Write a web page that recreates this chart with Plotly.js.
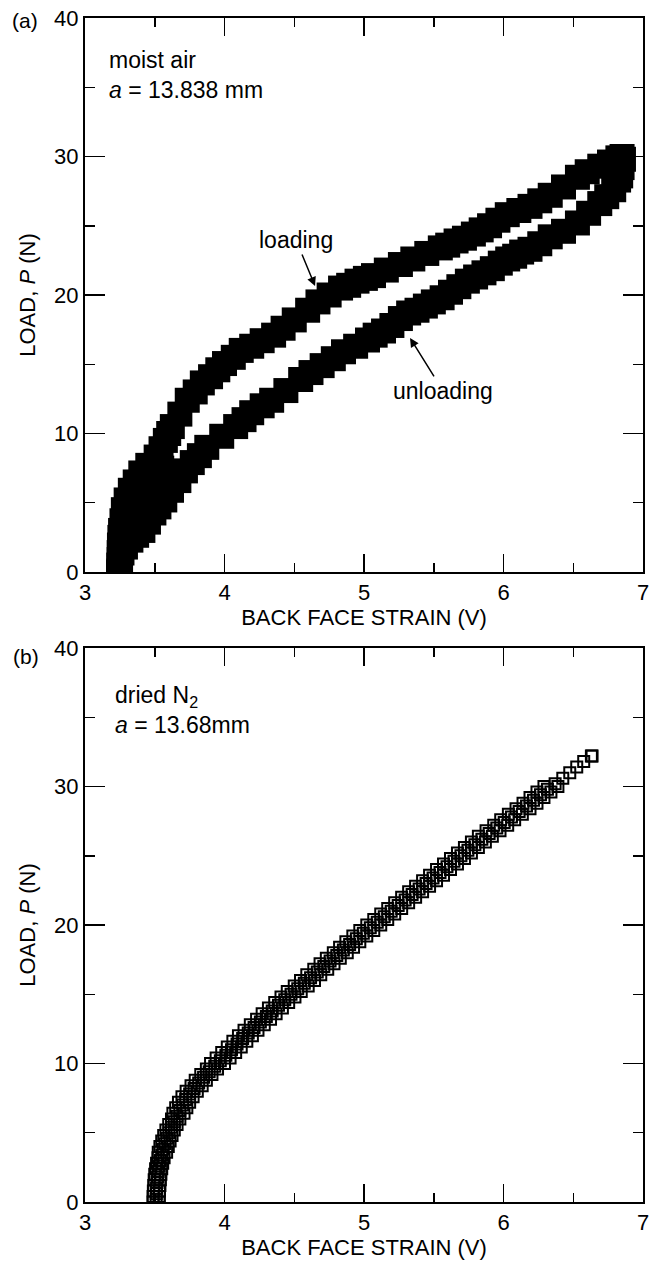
<!DOCTYPE html>
<html>
<head>
<meta charset="utf-8">
<script src="https://cdn.plot.ly/plotly-3.0.1.min.js"></script>
<style>html,body{margin:0;padding:0;background:#fff;}#chart{width:658px;height:1261px;}</style>
</head>
<body>
<div id="chart"></div>
<script>
// ---------- Panel (a): moist air, a = 13.838 mm ----------
const aLoadV = [3.24,3.242,3.245,3.245,3.247,3.25,3.255,3.265,3.275,3.295,3.325,3.36,3.40,3.45,3.51,3.545,3.576,3.60,3.626,3.68,3.733,3.79,3.841,3.90,3.952,4.00,4.063,4.12,4.195,4.27,4.352,4.42,4.50,4.596,4.67,4.75,4.832,4.89,4.95,5.01,5.068,5.16,5.261,5.35,5.45,5.547,5.60,5.66,5.72,5.784,5.84,5.90,5.96,6.027,6.11,6.19,6.26,6.335,6.43,6.53,6.60,6.69,6.76,6.82,6.85];
const aLoadP = [0.0,0.5,0.9,1.4,1.95,2.5,3.0,3.7,4.5,5.2,5.9,6.5,7.15,7.7,8.3,8.9,9.5,10.0,10.5,11.4,12.4,13.0,13.65,14.1,14.6,15.05,15.5,16.0,16.3,16.7,17.1,17.6,18.2,18.9,19.5,20.0,20.5,20.7,21.0,21.2,21.4,21.8,22.2,22.6,23.0,23.4,23.6,23.9,24.1,24.4,24.7,25.0,25.4,25.8,26.1,26.4,26.8,27.2,27.8,28.5,28.9,29.3,29.6,29.9,30.0];
const aUnV = [6.86,6.85,6.84,6.825,6.79,6.74,6.69,6.61,6.53,6.43,6.335,6.26,6.19,6.13,6.08,6.03,5.977,5.92,5.86,5.80,5.741,5.68,5.62,5.56,5.497,5.44,5.38,5.32,5.261,5.20,5.14,5.08,5.025,4.94,4.853,4.78,4.70,4.62,4.546,4.44,4.338,4.27,4.195,4.14,4.08,3.98,3.873,3.82,3.769,3.72,3.673,3.62,3.572,3.53,3.494,3.455,3.415,3.37,3.329,3.29,3.265,3.255,3.25,3.245];
const aUnP = [29.8,29.2,28.6,28.3,27.6,27.1,26.6,25.9,25.2,24.6,24.2,23.7,23.3,23.1,22.8,22.6,22.3,21.9,21.6,21.3,21.0,20.6,20.2,19.8,19.5,19.2,18.9,18.7,18.3,17.8,17.4,17.1,16.75,16.3,15.9,15.4,14.9,14.4,13.9,13.1,12.4,12.0,11.5,11.0,10.5,9.8,9.0,8.4,7.9,7.3,6.6,5.9,5.2,4.7,4.26,3.6,3.0,2.65,2.3,1.8,1.37,0.9,0.5,0.1];
// scattered early-cycle points filling the wedge between the branches near the origin
const aStartV = [3.30,3.34,3.38,3.43,3.48,3.55];
const aStartP = [2.5,3.5,4.5,5.5,6.5,7.5];

// ---------- Panel (b): dried N2, a = 13.68 mm ----------
const bLoadP = [0.0,0.4,0.8,1.2,1.6,2.0,2.4,2.8,3.2,3.6,4.0,4.4,4.8,5.2,5.6,6.0,6.4,6.8,7.2,7.6,8.0,8.4,8.8,9.2,9.6,10.0,10.4,10.8,11.2,11.6,12.0,12.4,12.8,13.2,13.6,14.0,14.4,14.8,15.2,15.6,16.0,16.4,16.8,17.2,17.6,18.0,18.4,18.8,19.2,19.6,20.0,20.4,20.8,21.2,21.6,22.0,22.4,22.8,23.2,23.6,24.0,24.4,24.8,25.2,25.6,26.0,26.4,26.8,27.2,27.6,28.0,28.4,28.8,29.2,29.6,30.0];
const bLoadV = [3.488,3.488,3.49,3.493,3.496,3.50,3.506,3.513,3.523,3.525,3.537,3.55,3.564,3.58,3.60,3.62,3.63,3.65,3.67,3.695,3.725,3.76,3.79,3.83,3.87,3.90,3.94,3.98,4.02,4.06,4.10,4.14,4.185,4.23,4.27,4.315,4.36,4.405,4.45,4.50,4.545,4.59,4.64,4.685,4.73,4.78,4.825,4.87,4.92,4.97,5.02,5.07,5.12,5.17,5.22,5.27,5.32,5.37,5.42,5.47,5.52,5.57,5.62,5.67,5.72,5.77,5.82,5.875,5.93,5.98,6.035,6.09,6.14,6.19,6.24,6.29];
const bMidP = [0.2,0.6,1.0,1.4,1.8,2.2,2.6,3.0,3.4,3.8,4.2,4.6,5.0,5.4,5.8,6.2,6.6,7.0,7.4,7.8,8.2,8.6,9.0,9.4,9.8,10.2,10.6,11.0,11.4,11.8,12.2,12.6,13.0,13.4,13.8,14.2,14.6,15.0,15.4,15.8,16.2,16.6,17.0,17.4,17.8,18.2,18.6,19.0,19.4,19.8,20.2,20.6,21.0,21.4,21.8,22.2,22.6,23.0,23.4,23.8,24.2,24.6,25.0,25.4,25.8,26.2,26.6,27.0,27.4,27.8,28.2,28.6,29.0,29.4,29.8,30.2,30.6,31.0,31.4,31.8,32.2,32.2];
const bMidV = [3.51,3.511,3.513,3.516,3.52,3.525,3.531,3.54,3.55,3.561,3.573,3.587,3.602,3.62,3.64,3.66,3.68,3.70,3.722,3.75,3.782,3.815,3.85,3.89,3.93,3.97,4.01,4.05,4.09,4.13,4.17,4.212,4.257,4.30,4.342,4.387,4.432,4.477,4.525,4.572,4.617,4.665,4.712,4.757,4.805,4.852,4.897,4.945,4.995,5.045,5.095,5.145,5.195,5.245,5.295,5.345,5.395,5.445,5.495,5.545,5.595,5.645,5.695,5.745,5.795,5.845,5.897,5.952,6.005,6.057,6.112,6.165,6.215,6.265,6.315,6.37,6.425,6.475,6.525,6.575,6.63,6.635];
const bUnP = [30.0,29.6,29.2,28.8,28.4,28.0,27.6,27.2,26.8,26.4,26.0,25.6,25.2,24.8,24.4,24.0,23.6,23.2,22.8,22.4,22.0,21.6,21.2,20.8,20.4,20.0,19.6,19.2,18.8,18.4,18.0,17.6,17.2,16.8,16.4,16.0,15.6,15.2,14.8,14.4,14.0,13.6,13.2,12.8,12.4,12.0,11.6,11.2,10.8,10.4,10.0,9.6,9.2,8.8,8.4,8.0,7.6,7.2,6.8,6.4,6.0,5.6,5.2,4.8,4.4,4.0,3.6,3.2,2.8,2.4,2.0,1.6,1.2,0.8,0.4,0.0];
const bUnV = [6.39,6.34,6.29,6.24,6.19,6.135,6.08,6.03,5.975,5.92,5.87,5.82,5.77,5.72,5.67,5.62,5.57,5.52,5.47,5.42,5.37,5.32,5.27,5.22,5.17,5.12,5.07,5.02,4.97,4.925,4.88,4.83,4.785,4.74,4.69,4.645,4.60,4.55,4.505,4.46,4.415,4.37,4.33,4.285,4.24,4.20,4.16,4.12,4.08,4.04,4.00,3.95,3.91,3.87,3.84,3.805,3.775,3.75,3.73,3.71,3.68,3.66,3.64,3.624,3.61,3.597,3.585,3.567,3.557,3.55,3.544,3.54,3.537,3.534,3.532,3.532];

// ---------- Axis settings ----------
const xRange = [3, 7];
const yRange = [0, 40];
const xTitle = 'BACK FACE STRAIN (V)';
const yTitle = 'LOAD, <i>P</i> (N)';

const FONT = 'Liberation Sans, Arial, Helvetica, sans-serif';

const openSq = {symbol: 'square-open', size: 11, color: '#000', line: {width: 2, color: '#000'}};
const solidSq = {symbol: 'square', size: 25, color: '#000'};

const traces = [
  {x: aLoadV, y: aLoadP, xaxis: 'x', yaxis: 'y', mode: 'markers', type: 'scatter', marker: solidSq, hoverinfo: 'skip'},
  {x: aUnV, y: aUnP, xaxis: 'x', yaxis: 'y', mode: 'markers', type: 'scatter', marker: solidSq, hoverinfo: 'skip'},
  {x: aStartV, y: aStartP, xaxis: 'x', yaxis: 'y', mode: 'markers', type: 'scatter', marker: solidSq, hoverinfo: 'skip'},
  {x: bLoadV, y: bLoadP, xaxis: 'x2', yaxis: 'y2', mode: 'markers', type: 'scatter', marker: openSq, hoverinfo: 'skip'},
  {x: bMidV, y: bMidP, xaxis: 'x2', yaxis: 'y2', mode: 'markers', type: 'scatter', marker: openSq, hoverinfo: 'skip'},
  {x: bUnV, y: bUnP, xaxis: 'x2', yaxis: 'y2', mode: 'markers', type: 'scatter', marker: openSq, hoverinfo: 'skip'}
];

function xAxis(anchor) {
  return {
    domain: [0, 1], anchor: anchor, range: xRange, tick0: 3, dtick: 1,
    ticks: 'inside', ticklen: 18, tickwidth: 1.5, tickcolor: '#000',
    minor: {dtick: 0.5, ticks: 'inside', ticklen: 9, tickwidth: 1.5, tickcolor: '#000'},
    showline: true, linewidth: 2, linecolor: '#000', mirror: 'ticks',
    showgrid: false, zeroline: false,
    tickfont: {family: FONT, size: 22, color: '#000'},
    title: {text: xTitle, font: {family: FONT, size: 22, color: '#000'}, standoff: 4}
  };
}
function yAxis(anchor, domain) {
  return {
    domain: domain, anchor: anchor, range: yRange, tick0: 0, dtick: 10,
    ticks: 'inside', ticklen: 20, tickwidth: 1.5, tickcolor: '#000',
    minor: {dtick: 5, ticks: 'inside', ticklen: 10, tickwidth: 1.5, tickcolor: '#000'},
    showline: true, linewidth: 2, linecolor: '#000', mirror: 'ticks',
    showgrid: false, zeroline: false,
    tickfont: {family: FONT, size: 22, color: '#000'},
    title: {text: yTitle, font: {family: FONT, size: 22, color: '#000'}, standoff: 12}
  };
}

const txt = (sz) => ({family: FONT, size: sz, color: '#000'});

const layout = {
  width: 658, height: 1261,
  margin: {l: 85, r: 15, t: 18, b: 59},
  paper_bgcolor: '#fff', plot_bgcolor: '#fff',
  showlegend: false,
  xaxis: xAxis('y'),
  yaxis: yAxis('x', [0.5321, 1]),
  xaxis2: xAxis('y2'),
  yaxis2: yAxis('x2', [0, 0.4679]),
  annotations: [
    {xref: 'paper', yref: 'paper', x: -0.1075, y: 0.9975, text: '(a)', showarrow: false,
     xanchor: 'center', yanchor: 'middle', font: txt(21)},
    {xref: 'paper', yref: 'paper', x: -0.1057, y: 0.4611, text: '(b)', showarrow: false,
     xanchor: 'center', yanchor: 'middle', font: txt(21)},
    {xref: 'x', yref: 'y', x: 3.158, y: 35.85, text: 'moist air<br><i>a</i> = 13.838 mm', showarrow: false,
     xanchor: 'left', yanchor: 'middle', align: 'left', font: txt(23)},
    {xref: 'x2', yref: 'y2', x: 3.20, y: 35.5, text: 'dried N<sub>2</sub><br><i>a</i> = 13.68mm', showarrow: false,
     xanchor: 'left', yanchor: 'middle', align: 'left', font: txt(23)},
    {xref: 'x', yref: 'y', x: 4.649, y: 20.65, text: 'loading', showarrow: true, ax: -19, ay: -46,
     arrowhead: 2, arrowsize: 1.2, arrowwidth: 1.5, arrowcolor: '#000', standoff: 0, font: txt(23)},
    {xref: 'x', yref: 'y', x: 5.33, y: 16.9, text: 'unloading', showarrow: true, ax: 33, ay: 53,
     arrowhead: 2, arrowsize: 1.2, arrowwidth: 1.5, arrowcolor: '#000', standoff: 0, font: txt(23)}
  ]
};

Plotly.newPlot('chart', traces, layout, {staticPlot: true, displayModeBar: false});
</script>
</body>
</html>
